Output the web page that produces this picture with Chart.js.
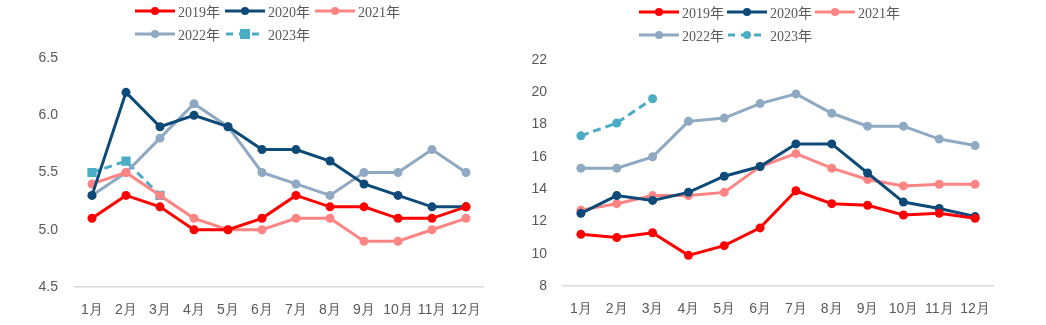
<!DOCTYPE html>
<html>
<head>
<meta charset="utf-8">
<script src="https://cdn.jsdelivr.net/npm/chart.js"></script>
<style>
  body { margin: 0; background: #fff; }
  .wrap { position: relative; width: 1046px; height: 325px; overflow: hidden; }
  .box { position: absolute; top: 0; height: 325px; }
  .legend { position: absolute; font: 14px "Liberation Serif", "Noto Sans CJK SC", serif; color: #595959; }
  .row { display: flex; height: 23px; align-items: center; }
  .item { display: flex; align-items: center; }
  .item svg { margin-right: 3px; }
</style>
</head>
<body>
<div class="wrap">
  <div class="box" style="left:0;width:520px"><canvas id="leftChart" width="520" height="325"></canvas>
    <div class="legend" id="leftLegend" style="left:135px;top:-1px"></div></div>
  <div class="box" style="left:520px;width:526px"><canvas id="rightChart" width="526" height="325"></canvas>
    <div class="legend" id="rightLegend" style="left:119px;top:0px"></div></div>
</div>
<script>
const months = ["1月","2月","3月","4月","5月","6月","7月","8月","9月","10月","11月","12月"];
const years = ["2019年","2020年","2021年","2022年","2023年"];
const colors = ["#FF0000", "#0D4A77", "#FF8585", "#8EA9C1", "#4BACC6"];

// left chart
const left2019 = [5.1, 5.3, 5.2, 5.0, 5.0, 5.1, 5.3, 5.2, 5.2, 5.1, 5.1, 5.2];
const left2020 = [5.3, 6.2, 5.9, 6.0, 5.9, 5.7, 5.7, 5.6, 5.4, 5.3, 5.2, 5.2];
const left2021 = [5.4, 5.5, 5.3, 5.1, 5.0, 5.0, 5.1, 5.1, 4.9, 4.9, 5.0, 5.1];
const left2022 = [5.3, 5.5, 5.8, 6.1, 5.9, 5.5, 5.4, 5.3, 5.5, 5.5, 5.7, 5.5];
const left2023 = [5.5, 5.6, 5.3];

// right chart
const right2019 = [11.2, 11.0, 11.3, 9.9, 10.5, 11.6, 13.9, 13.1, 13.0, 12.4, 12.5, 12.2];
const right2020 = [12.5, 13.6, 13.3, 13.8, 14.8, 15.4, 16.8, 16.8, 15.0, 13.2, 12.8, 12.3];
const right2021 = [12.7, 13.1, 13.6, 13.6, 13.8, 15.4, 16.2, 15.3, 14.6, 14.2, 14.3, 14.3];
const right2022 = [15.3, 15.3, 16.0, 18.2, 18.4, 19.3, 19.9, 18.7, 17.9, 17.9, 17.1, 16.7];
const right2023 = [17.3, 18.1, 19.6];

function makeSets(series, lastStyle) {
  return series.map(function(vals, i) {
    return {
      label: years[i],
      data: vals,
      borderColor: colors[i],
      backgroundColor: colors[i],
      borderWidth: 3,
      borderDash: i == 4 ? [8, 5] : [],
      pointStyle: i == 4 ? lastStyle : "circle",
      pointRadius: i == 4 && lastStyle == "rect" ? 6.5 : 4.5,
      pointBorderWidth: 0,
      tension: 0
    };
  });
}

function makeChart(id, sets, cfg) {
  return new Chart(id, {
    type: "line",
    data: { labels: months, datasets: sets },
    options: {
      responsive: false,
      animation: false,
      layout: { padding: { top: cfg.top, right: cfg.right, left: 0, bottom: 0 } },
      plugins: { legend: { display: false }, tooltip: { enabled: false } },
      scales: {
        x: {
          offset: true,
          grid: { display: false, drawTicks: false },
          border: { color: "#D9D9D9", width: 1.5 },
          ticks: { color: "#595959", font: { size: 14, family: "Liberation Sans, Arial" }, padding: 15, maxRotation: 0 },
          afterFit: function(s) { s.height = cfg.xh; }
        },
        y: {
          min: cfg.min, max: cfg.max,
          grid: { display: false, drawTicks: false },
          border: { display: false },
          ticks: {
            stepSize: cfg.step, color: "#595959", padding: cfg.tp,
            font: { size: 14, family: "Liberation Sans, Arial" },
            callback: function(v) { return cfg.dec ? v.toFixed(1) : v; }
          },
          afterFit: function(s) { s.width = cfg.yw; }
        }
      }
    }
  });
}

function makeLegend(el, style, pitch) {
  const rows = [[0, 1, 2], [3, 4]];
  let html = "";
  rows.forEach(function(r) {
    html += '<div class="row">';
    r.forEach(function(i) {
      let mark = '<circle cx="20" cy="6" r="4" fill="' + colors[i] + '"/>';
      if (i == 4 && style == "rect") mark = '<rect x="15" y="1" width="10" height="10" fill="' + colors[i] + '"/>';
      html += '<div class="item" style="width:' + pitch + 'px"><svg width="40" height="12">' +
        '<line x1="0" y1="6" x2="40" y2="6" stroke="' + colors[i] + '" stroke-width="3"' + (i == 4 ? ' stroke-dasharray="7 6" stroke-dashoffset="-1"' : "") + '/>' +
        mark + '</svg><span>' + years[i] + '</span></div>';
    });
    html += "</div>";
  });
  document.getElementById(el).innerHTML = html;
}

makeChart("leftChart", makeSets([left2019, left2020, left2021, left2022, left2023], "rect"),
  { top: 58, right: 37, xh: 38, yw: 75, tp: 17, min: 4.5, max: 6.5, step: 0.5, dec: true });
makeChart("rightChart", makeSets([right2019, right2020, right2021, right2022, right2023], "circle"),
  { top: 60, right: 53, xh: 39, yw: 43, tp: 16, min: 8, max: 22, step: 2, dec: false });

makeLegend("leftLegend", "rect", 90);
makeLegend("rightLegend", "circle", 88);
</script>
</body>
</html>
